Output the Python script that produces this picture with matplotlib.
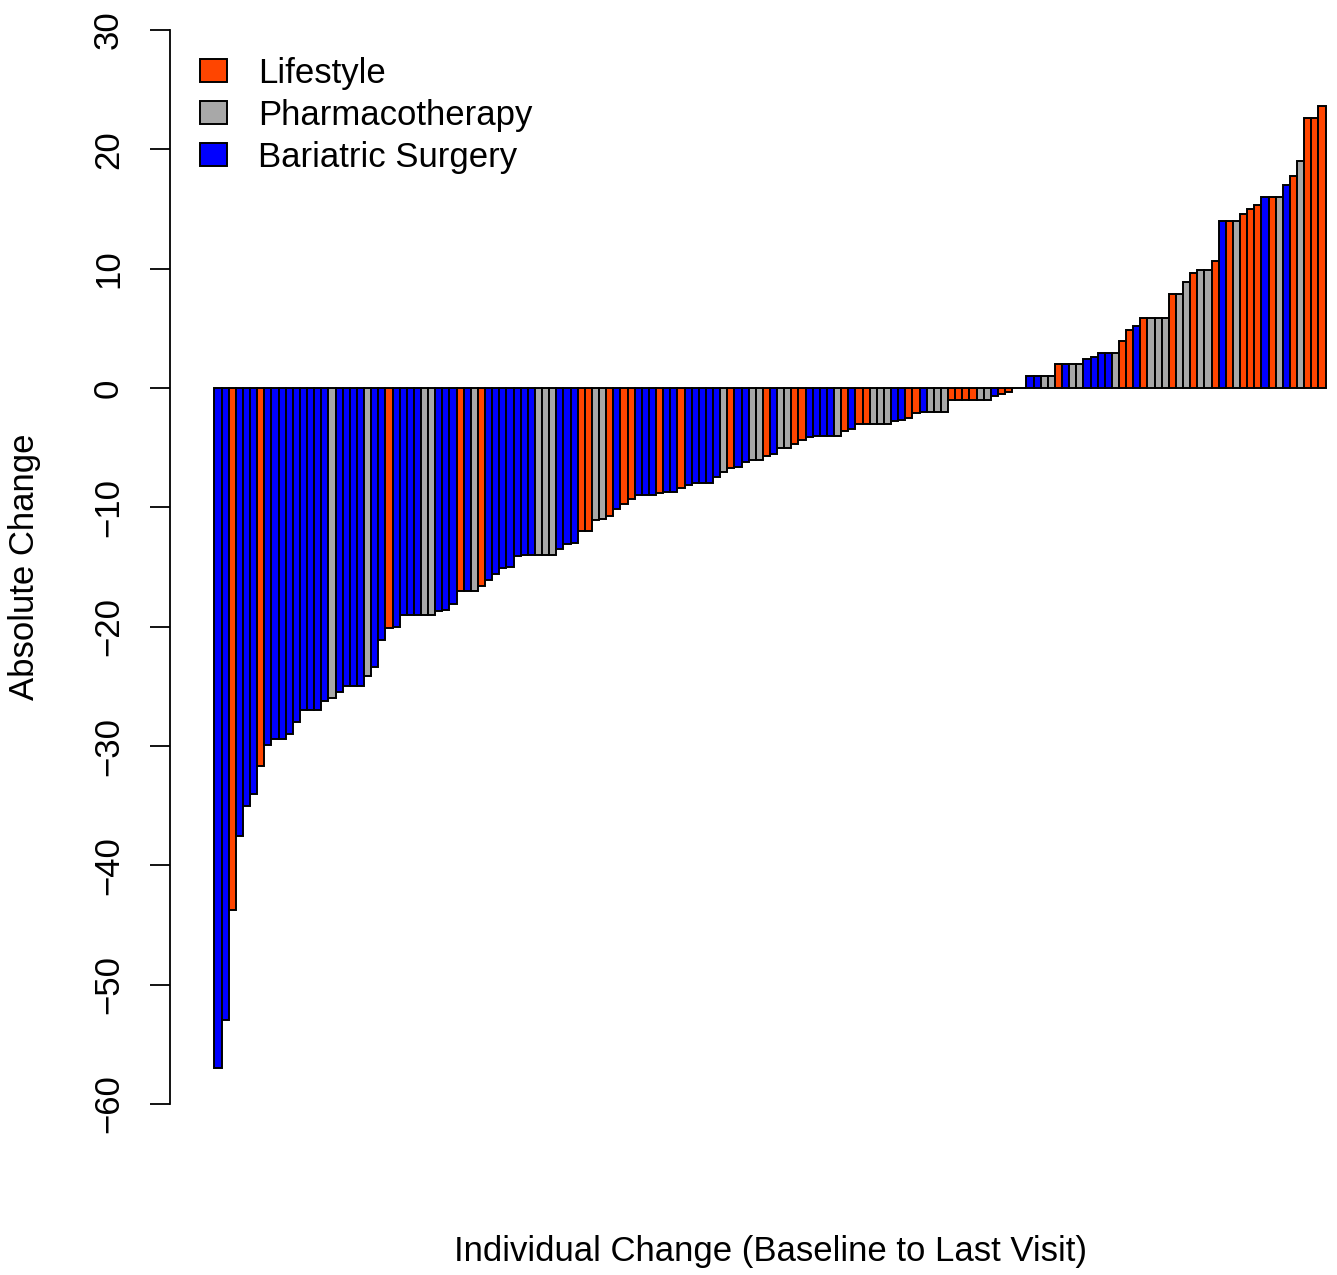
import matplotlib.pyplot as plt
from matplotlib.patches import Patch

plt.rcParams['font.family'] = ['Liberation Sans', 'DejaVu Sans']

# change per patient, sorted
change = [
    -57.0, -53.0, -43.7, -37.5, -35.0, -34.0, -31.7, -29.9, -29.4, -29.4,
    -29.0, -28.0, -27.0, -27.0, -27.0, -26.2, -26.0, -25.5, -25.0, -25.0,
    -25.0, -24.1, -23.4, -21.1, -20.1, -20.0, -19.0, -19.0, -19.0, -19.0,
    -19.0, -18.7, -18.6, -18.1, -17.0, -17.0, -17.0, -16.6, -16.1, -15.6,
    -15.1, -15.0, -14.1, -14.0, -14.0, -14.0, -14.0, -14.0, -13.5, -13.1,
    -13.0, -12.0, -12.0, -11.1, -11.0, -10.7, -10.1, -9.7, -9.3, -9.0,
    -9.0, -9.0, -8.8, -8.7, -8.7, -8.4, -8.1, -8.0, -8.0, -8.0,
    -7.5, -7.0, -6.7, -6.6, -6.2, -6.0, -6.0, -5.7, -5.5, -5.0,
    -5.0, -4.7, -4.4, -4.1, -4.0, -4.0, -4.0, -4.0, -3.6, -3.4,
    -3.0, -3.0, -3.0, -3.0, -3.0, -2.8, -2.7, -2.5, -2.1, -2.0,
    -2.0, -2.0, -2.0, -1.0, -1.0, -1.0, -1.0, -1.0, -1.0, -0.7,
    -0.5, -0.3, 0.0, 0.0, 1.0, 1.0, 1.0, 1.0, 2.0, 2.0,
    2.0, 2.0, 2.4, 2.6, 2.9, 2.9, 2.9, 3.9, 4.9, 5.2,
    5.9, 5.9, 5.9, 5.9, 7.9, 7.9, 8.9, 9.6, 9.9, 9.9,
    10.6, 14.0, 14.0, 14.0, 14.6, 15.0, 15.3, 16.0, 16.0, 16.0,
    17.0, 17.8, 19.0, 22.6, 22.6, 23.6,
]

# L = lifestyle, P = pharmacotherapy, B = bariatric surgery
group = list(
    "BBLBBBLBBB" "BBBBBBPBBB" "BPBBLBBBBP"
    "PBBBLBPLBB" "BBBBBPPPBB" "BLLPPLBLLB"
    "BBLBBLBBBB" "BPLBBPPLBP" "PLLBBBBPLB"
    "LLPPPBBLLB" "PPPLLLLPPB" "LLLLBBPPLB"
    "PPBBBBPLLB" "LPPPLPPLPP" "LBLPLLLBLP"
    "BLPLLL"
)

labels = ['Lifestyle', 'Pharmacotherapy', 'Bariatric Surgery']
colors = {'L': '#FF4500', 'P': '#A8A8A8', 'B': '#0000FF'}

fig = plt.figure(figsize=(13.37, 12.75), dpi=100)
# plot region runs past the right edge, like the cropped original
ax = fig.add_axes([170 / 1337, 128 / 1275, 1200 / 1337, 1160 / 1275])

x = list(range(len(change)))
ax.bar(x, change, width=1.0, align='edge',
       color=[colors[g] for g in group], edgecolor='black', linewidth=1.4)

ax.set_xlim(-6.24, len(change) + 6.24)
ax.set_ylim(-63.6, 33.6)

for s in ['top', 'right', 'bottom']:
    ax.spines[s].set_visible(False)
ax.spines['left'].set_bounds(-60, 30)
ax.spines['left'].set_linewidth(1.3)
ax.set_xticks([])
ax.set_yticks(range(-60, 31, 10))
ax.tick_params(axis='y', length=14.4, width=1.3, pad=18, labelsize=25)
for lab in ax.get_yticklabels():
    lab.set_rotation(90)
    lab.set_va('center')
    lab.set_ha('right')

fig.text(770 / 1337, 1 - 1252 / 1275, 'Individual Change (Baseline to Last Visit)',
         ha='center', va='center', fontsize=25)
fig.text(25 / 1337, 1 - 567 / 1275, 'Absolute Change', rotation=90,
         ha='center', va='center', fontsize=25)

handles = [Patch(facecolor=colors[k], edgecolor='black', linewidth=1.4) for k in 'LPB']
ax.legend(handles, labels, loc='upper left', bbox_to_anchor=(200 / 1337, 1 - 57 / 1275),
          bbox_transform=fig.transFigure, frameon=False, fontsize=25,
          handlelength=0.78, handleheight=0.63, handletextpad=0.89,
          labelspacing=0.26, borderpad=0, borderaxespad=0)

fig.savefig('out.png', dpi=100)
